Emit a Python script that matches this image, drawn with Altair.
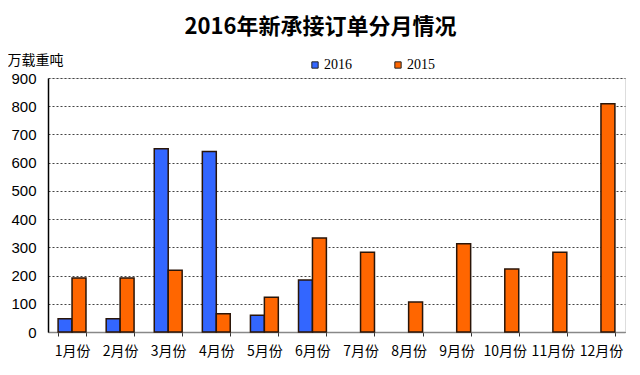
import altair as alt
import pandas as pd

months = ["1月份", "2月份", "3月份", "4月份", "5月份", "6月份",
          "7月份", "8月份", "9月份", "10月份", "11月份", "12月份"]
series = ["2016", "2015"]
v2016 = [47, 47, 649, 640, 59, 184, None, None, None, None, None, None]
v2015 = [191, 191, 219, 65, 123, 333, 283, 106, 313, 223, 283, 809]
colors = ["#3366FF", "#FF6600"]

rows = []
for m, a, b in zip(months, v2016, v2015):
    if a is not None:
        rows.append({"month": m, "series": "2016", "value": a})
    rows.append({"month": m, "series": "2015", "value": b})
df = pd.DataFrame(rows)

cjk = "Noto Sans CJK SC"

chart = alt.Chart(df).mark_bar(stroke="#2a1508", strokeWidth=1.5).encode(
    x=alt.X("month:N", sort=months,
            scale=alt.Scale(paddingInner=0.42, paddingOuter=0.21),
            axis=alt.Axis(title=None, labelAngle=0, labelFont=cjk, labelFontSize=14,
                          labelColor="#000", labelPadding=8, tickBand="extent",
                          tickSize=4, tickColor="#333", domainColor="#888",
                          domainWidth=1.5, grid=False)),
    xOffset=alt.XOffset("series:N", sort=series),
    y=alt.Y("value:Q", scale=alt.Scale(domain=[0, 900], nice=False),
            axis=alt.Axis(values=list(range(0, 1000, 100)), title="万载重吨",
                          titleAngle=0, titleAlign="left", titleBaseline="middle",
                          titleX=-41, titleY=-18, titleFont=cjk, titleFontSize=14,
                          titleFontWeight="normal", titleColor="#000",
                          labelFont="Liberation Sans", labelFontSize=15,
                          labelColor="#000", labelPadding=12, ticks=False,
                          domainColor="#000", domainWidth=1.5,
                          gridColor="#444", gridDash=[2, 2], gridWidth=1)),
    color=alt.Color("series:N", sort=series,
                    scale=alt.Scale(domain=series, range=colors),
                    legend=alt.Legend(title=None, orient="none", legendX=260, legendY=-20,
                                      direction="horizontal", symbolType="square",
                                      symbolSize=40, symbolStrokeColor="#222",
                                      symbolStrokeWidth=1, labelFont="Liberation Serif",
                                      labelFontSize=14, labelColor="#000",
                                      labelOffset=2, columnPadding=39)),
).properties(
    width=577, height=254,
    padding={"left": 40, "top": 70, "right": 7, "bottom": 35},
    autosize=alt.AutoSizeParams(type="none"),
    title=alt.TitleParams("2016年新承接订单分月情况", font=cjk, fontSize=22,
                          fontWeight="bold", color="#000", anchor="middle",
                          dx=-16, offset=14),
).configure_view(stroke=None).configure(background="white")

chart.save("out.html", embed_options={"renderer": "svg", "actions": False})
